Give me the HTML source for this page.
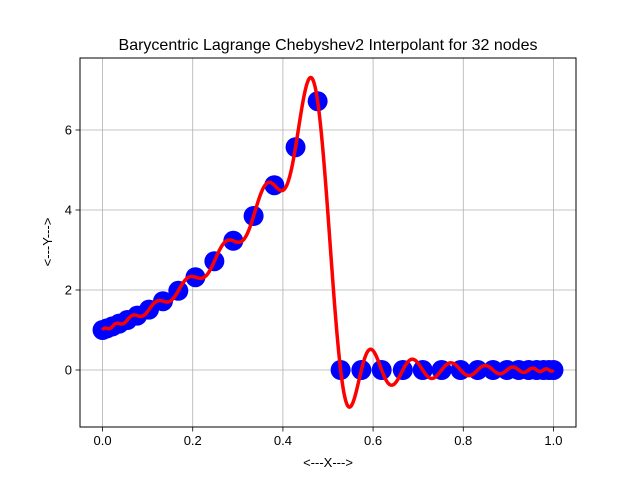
<!DOCTYPE html>
<html><head><meta charset="utf-8"><style>
body{margin:0;background:#fff;}
svg text{font-family:"Liberation Sans","DejaVu Sans",sans-serif;}
</style></head><body>
<svg id="chart" width="640" height="480" viewBox="0 0 640 480" xmlns="http://www.w3.org/2000/svg">
<rect width="640" height="480" fill="#fff"/>
<g id="grid"></g>
<g id="series"></g>
<rect x="80" y="58" width="496" height="369" fill="none" stroke="#000" stroke-width="1"/>
<g id="ticks"></g>
<text x="328" y="50" font-size="16" text-anchor="middle">Barycentric Lagrange Chebyshev2 Interpolant for 32 nodes</text>
<text x="328" y="467" font-size="13" text-anchor="middle">&lt;---X---&gt;</text>
<text x="52" y="242" font-size="13" text-anchor="middle" transform="rotate(-90 52 242)">&lt;---Y---&gt;</text>
</svg>
<script>
const nodeX=[0,0.01,0.022,0.037,0.055,0.077,0.103,0.134,0.168,0.206,0.248,0.29,0.335,0.381,0.428,0.477,0.528,0.574,0.619,0.666,0.71,0.752,0.794,0.832,0.866,0.897,0.923,0.945,0.963,0.978,0.99,1];
const nodeY=[1,1.04,1.09,1.16,1.25,1.36,1.51,1.72,1.98,2.32,2.72,3.23,3.85,4.62,5.57,6.72,0,0,0,0,0,0,0,0,0,0,0,0,0,0,0,0];
const xTicks=[0,0.2,0.4,0.6,0.8,1.0];
const xTickLabels=["0.0","0.2","0.4","0.6","0.8","1.0"];
const yTicks=[0,2,4,6];
const yTickLabels=["0","2","4","6"];
const X0=80,X1=576,Y0=58,Y1=427,xmin=-0.05,xmax=1.05,ymin=-1.425,ymax=7.8;
const sx=v=>X0+(v-xmin)/(xmax-xmin)*(X1-X0);
const sy=v=>Y1-(v-ymin)/(ymax-ymin)*(Y1-Y0);
const NS="http://www.w3.org/2000/svg";
function mk(tag,attrs,parent){const e=document.createElementNS(NS,tag);for(const k in attrs)e.setAttribute(k,attrs[k]);parent.appendChild(e);return e;}
const grid=document.getElementById('grid'),ticks=document.getElementById('ticks'),series=document.getElementById('series');
xTicks.forEach((t,i)=>{const x=sx(t);
 const g=mk('line',{x1:x,x2:x,y1:Y0,y2:Y1,stroke:'#b0b0b0','stroke-width':0.8},grid);
 
 
 mk('line',{x1:x,x2:x,y1:Y1,y2:Y1+4.5,stroke:'#000','stroke-width':0.8},ticks);
 const tx=mk('text',{x:x,y:Y1+18,'font-size':13,'text-anchor':'middle'},ticks);tx.textContent=xTickLabels[i];
 
 });
yTicks.forEach((t,i)=>{const y=sy(t);
 const g=mk('line',{x1:X0,x2:X1,y1:y,y2:y,stroke:'#b0b0b0','stroke-width':0.8},grid);
 
 
 mk('line',{x1:X0-4.5,x2:X0,y1:y,y2:y,stroke:'#000','stroke-width':0.8},ticks);
 const tx=mk('text',{x:X0-8,y:y+4.5,'font-size':13,'text-anchor':'end'},ticks);tx.textContent=yTickLabels[i];
 
 });
nodeX.forEach((x,i)=>{const c=mk('circle',{cx:sx(x),cy:sy(nodeY[i]),r:10,fill:'#0000ff'},series);
 
 });
const n=nodeX.length,w=nodeX.map((_,j)=>((j%2)?-1:1)*((j===0||j===n-1)?0.5:1));
function interp(x){let num=0,den=0;for(let j=0;j<n;j++){const d=x-nodeX[j];if(Math.abs(d)<1e-12)return nodeY[j];const t=w[j]/d;num+=t*nodeY[j];den+=t;}return num/den;}
let d='';const N=1000;
for(let k=0;k<=N;k++){const x=nodeX[0]+(nodeX[n-1]-nodeX[0])*k/N;d+=(k?'L':'M')+sx(x).toFixed(2)+','+sy(interp(x)).toFixed(2);}
const p=mk('path',{d:d,fill:'none',stroke:'#ff0000','stroke-width':3.5,'stroke-linejoin':'round'},series);


</script>
</body></html>
